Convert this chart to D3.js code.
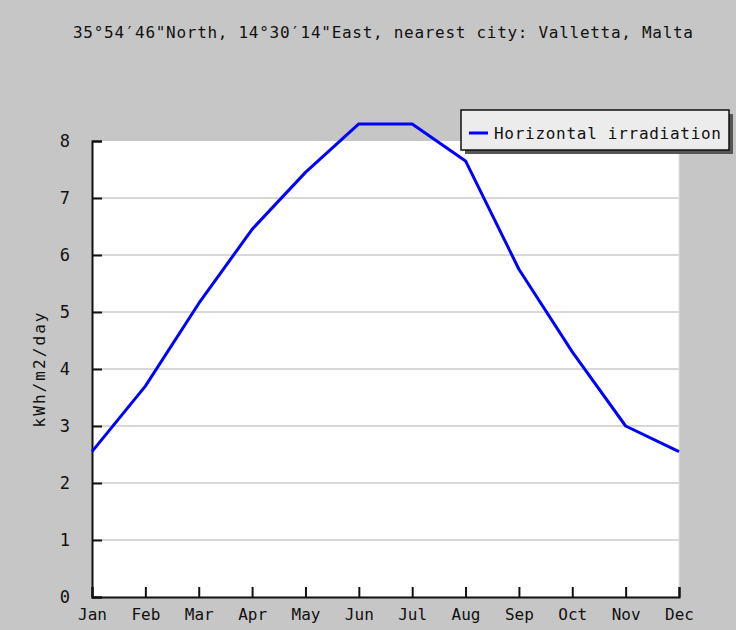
<!DOCTYPE html>
<html><head><meta charset="utf-8">
<script src="https://cdn.jsdelivr.net/npm/d3@7"></script>
<style>
html,body{margin:0;padding:0;background:#c6c6c6;}
text{font-family:"DejaVu Sans Mono","Liberation Mono",monospace;fill:#111;}
</style></head>
<body>
<script>
const months = ["Jan","Feb","Mar","Apr","May","Jun","Jul","Aug","Sep","Oct","Nov","Dec"];
const irradiation = [2.55,3.7,5.15,6.45,7.45,8.3,8.3,7.65,5.75,4.3,3.0,2.55];
const yTicks = [0,1,2,3,4,5,6,7,8];
const title = "35°54′46\"North, 14°30′14\"East, nearest city: Valletta, Malta";
const seriesName = "Horizontal irradiation";
const yLabel = "kWh/m2/day";

const W = 736, H = 630;
const svg = d3.select("body").append("svg").attr("width", W).attr("height", H)
  .style("display","block");
svg.append("rect").attr("width", W).attr("height", H).attr("fill", "#c6c6c6");

const x = d3.scalePoint().domain(months).range([92, 679]);
const y = d3.scaleLinear().domain([0, 8]).range([597, 141]);

// plot area
svg.append("rect").attr("x", 92).attr("y", 141).attr("width", 587).attr("height", 456)
  .attr("fill", "#fff");
svg.append("line").attr("x1", 679).attr("x2", 679).attr("y1", 141).attr("y2", 597)
  .attr("stroke", "#e0e0e0").attr("stroke-width", 1);

// grid
svg.append("g").selectAll("line").data(yTicks.filter(d => d > 0 && d < 8)).join("line")
  .attr("x1", 92).attr("x2", 679)
  .attr("y1", d => y(d)).attr("y2", d => y(d))
  .attr("stroke", "#d8d8d8").attr("stroke-width", 2);

// y axis
const yAxis = d3.axisLeft(y).tickValues(yTicks).tickSize(-10).tickPadding(22).tickFormat(d3.format("d"));
const gy = svg.append("g").attr("transform", "translate(92,0)").call(yAxis);
gy.select(".domain").attr("stroke", "#111").attr("stroke-width", 2);
gy.selectAll(".tick line").attr("stroke", "#111").attr("stroke-width", 2);
gy.selectAll(".tick text").attr("font-size", 17).attr("font-family", "DejaVu Sans Mono")
  .attr("fill", "#111").attr("dy", "0.35em");

// x axis
const xAxis = d3.axisBottom(x).tickSize(-10).tickPadding(21);
const gx = svg.append("g").attr("transform", "translate(0,597)").call(xAxis);
gx.select(".domain").attr("stroke", "#111").attr("stroke-width", 2);
gx.selectAll(".tick line").attr("stroke", "#111").attr("stroke-width", 2);
gx.selectAll(".tick text").attr("font-size", 16).attr("font-family", "DejaVu Sans Mono")
  .attr("fill", "#111").attr("dy", "0.1em");

// line
const line = d3.line().x((d, i) => x(months[i])).y(d => y(d));
svg.append("path").datum(irradiation).attr("d", line)
  .attr("fill", "none").attr("stroke", "#0000ff").attr("stroke-width", 3)
  .attr("stroke-linejoin", "round");

// title
svg.append("text").attr("x", 383).attr("y", 38).attr("text-anchor", "middle")
  .attr("font-size", 16).attr("textLength", 620).attr("lengthAdjust", "spacing")
  .text(title);

// y label
svg.append("text").attr("transform", "translate(45,370) rotate(-90)")
  .attr("text-anchor", "middle").attr("font-size", 16)
  .attr("textLength", 115).attr("lengthAdjust", "spacing").text(yLabel);

// legend
const lg = svg.append("g");
lg.append("rect").attr("x", 465).attr("y", 114).attr("width", 268).attr("height", 40).attr("fill", "#555");
lg.append("rect").attr("x", 461).attr("y", 110).attr("width", 268).attr("height", 40)
  .attr("fill", "#ececec").attr("stroke", "#111").attr("stroke-width", 1.5);
lg.append("line").attr("x1", 469).attr("x2", 488).attr("y1", 133).attr("y2", 133)
  .attr("stroke", "#0000ff").attr("stroke-width", 3);
lg.append("text").attr("x", 494).attr("y", 139).attr("font-size", 16)
  .attr("textLength", 227).attr("lengthAdjust", "spacing").text(seriesName);
</script>
</body></html>
